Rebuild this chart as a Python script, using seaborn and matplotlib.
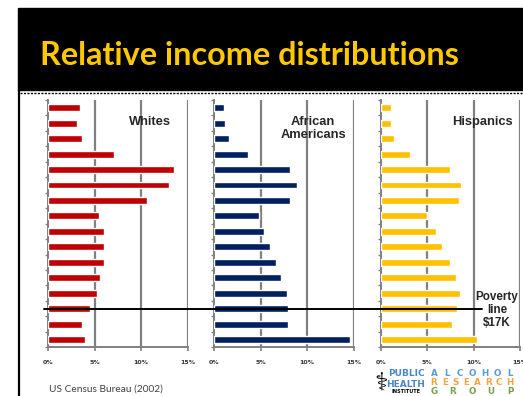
import numpy as np
import pandas as pd
import matplotlib
matplotlib.use("Agg")
import matplotlib.pyplot as plt
import matplotlib.transforms as mtransforms
from matplotlib.lines import Line2D
from matplotlib.patches import Rectangle
import seaborn as sns

# income brackets, top (highest) to bottom (lowest)
brackets = ["$250K+", "$200-250K", "$150-200K", "$100-150K", "$75-100K",
            "$60-75K", "$50-60K", "$45-50K", "$40-45K", "$35-40K",
            "$30-35K", "$25-30K", "$20-25K", "$15-20K", "$10-15K", "<$10K"]

# percent of households per bracket
whites = [3.4, 3.1, 3.6, 7.1, 13.5, 13.0, 10.6, 5.5, 6.0, 6.0, 6.0, 5.6, 5.2, 4.5, 3.6, 4.0]
african_americans = [1.0, 1.1, 1.6, 3.6, 8.1, 8.9, 8.2, 4.8, 5.4, 6.0, 6.6, 7.2, 7.8, 7.9, 7.9, 14.6]
hispanics = [1.1, 1.1, 1.4, 3.2, 7.5, 8.7, 8.4, 5.0, 6.0, 6.6, 7.5, 8.1, 8.5, 8.2, 7.7, 10.4]

groups = ["Whites", "African\nAmericans", "Hispanics"]
colors = ["#C00000", "#002060", "#FFC000"]
xticks = [0, 5, 10, 15]
xtick_labels = ["0%", "5%", "10%", "15%"]
poverty_bracket = "$15-20K"

W, H = 523, 396
sns.set_style("white")
fig = plt.figure(figsize=(W / 100, H / 100), dpi=100)
fig.patch.set_facecolor("white")


def fx(px):
    return px / W


def fy(py):
    return 1 - py / H


# title band
fig.add_artist(Rectangle((fx(18), fy(90)), fx(523) - fx(18), fy(8) - fy(90),
                         transform=fig.transFigure, color="black", zorder=0))
fig.text(fx(40), fy(65), "Relative income distributions", color="#FFC800",
         fontsize=23.3, fontweight="bold", family="Lato", va="baseline")
fig.add_artist(Line2D([fx(20), fx(523)], [fy(92.5), fy(92.5)], transform=fig.transFigure,
                      color="black", lw=1, ls=(0, (1.5, 1))))
fig.add_artist(Line2D([fx(18.5), fx(18.5)], [fy(90), fy(396)], transform=fig.transFigure,
                      color="black", lw=1.6))

panel_left = [48.3, 214.3, 380.7]
panel_w = 139.3
top, bottom = 100, 347.3

series = [whites, african_americans, hispanics]
axes = []
for i in range(3):
    ax = fig.add_axes([fx(panel_left[i]), fy(bottom), panel_w / W, (bottom - top) / H])
    df = pd.DataFrame({"bracket": brackets, "pct": series[i]})
    sns.barplot(data=df, y="bracket", x="pct", orient="h", color=colors[i],
                width=0.45, saturation=1, ax=ax, zorder=3)
    ax.set_xlim(0, 15)
    ax.set_ylim(len(brackets) - 0.5, -0.5)
    for v in xticks[1:]:
        ax.axvline(v, color="#808080", lw=1.6, zorder=1)
    ax.set_xticks(xticks)
    ax.set_xticklabels(xtick_labels, fontsize=4.5, fontweight="bold", color="#333333")
    ax.set_yticks(np.arange(len(brackets) + 1) - 0.5)
    ax.set_yticklabels([])
    ax.tick_params(axis="x", length=3, width=1.2, color="#808080", pad=6, direction="out", bottom=True)
    ax.tick_params(axis="y", length=2.5, width=1, color="#808080", direction="out", left=True)
    ax.set_xlabel("")
    ax.set_ylabel("")
    for s in ["top", "right"]:
        ax.spines[s].set_visible(False)
    for s in ["left", "bottom"]:
        ax.spines[s].set_color("#808080")
        ax.spines[s].set_linewidth(1.4)
    ax.patch.set_alpha(0)
    axes.append(ax)

label_pos = [(0.73, 0.91), (0.71, 0.885), (0.73, 0.91)]
for ax, name, (lx, ly) in zip(axes, groups, label_pos):
    ax.text(lx, ly, name, transform=ax.transAxes, ha="center", va="center",
            fontsize=9.3, fontweight="bold", family="Liberation Sans", linespacing=1.15)

# poverty line across panels
pov_y = brackets.index(poverty_bracket)
tr = mtransforms.blended_transform_factory(fig.transFigure, axes[0].transData)
fig.add_artist(Line2D([fx(44), fx(482)], [pov_y, pov_y], transform=tr, color="black", lw=1.4, zorder=5))
fig.text(fx(497), fy(310), "Poverty\nline\n$17K", ha="center", va="center", fontsize=8.4,
         fontweight="bold", family="Liberation Sans", linespacing=1.15)

# source
fig.text(fx(49), fy(389), "US Census Bureau (2002)", fontsize=7.3, color="#404040",
         family="Lato", va="center")

# logo
fig.text(fx(381), fy(383), "\u2695", fontsize=18, color="black", ha="center", va="center",
         family="DejaVu Sans")
fig.text(fx(406), fy(373.5), "PUBLIC", fontsize=6.5, color="#4A86C8", ha="center", va="center",
         fontweight="heavy", family="DejaVu Sans")
fig.text(fx(406), fy(384.5), "HEALTH", fontsize=6.5, color="#4A86C8", ha="center", va="center",
         fontweight="heavy", family="DejaVu Sans")
fig.text(fx(406), fy(391.5), "INSTITUTE", fontsize=3.5, color="black", ha="center", va="center",
         fontweight="bold", family="DejaVu Sans")
logo_rows = [("ALCOHOL", "#5B9BD5", 373.3), ("RESEARCH", "#F4A442", 382.7), ("GROUP", "#77A04C", 391.7)]
for word, col, yy in logo_rows:
    xs = np.linspace(434, 510, len(word))
    for ch, xx in zip(word, xs):
        fig.text(fx(xx), fy(yy), ch, fontsize=6.3, color=col, ha="center", va="center",
                 fontweight="bold", family="DejaVu Sans")

fig.savefig("out.png", dpi=100)
